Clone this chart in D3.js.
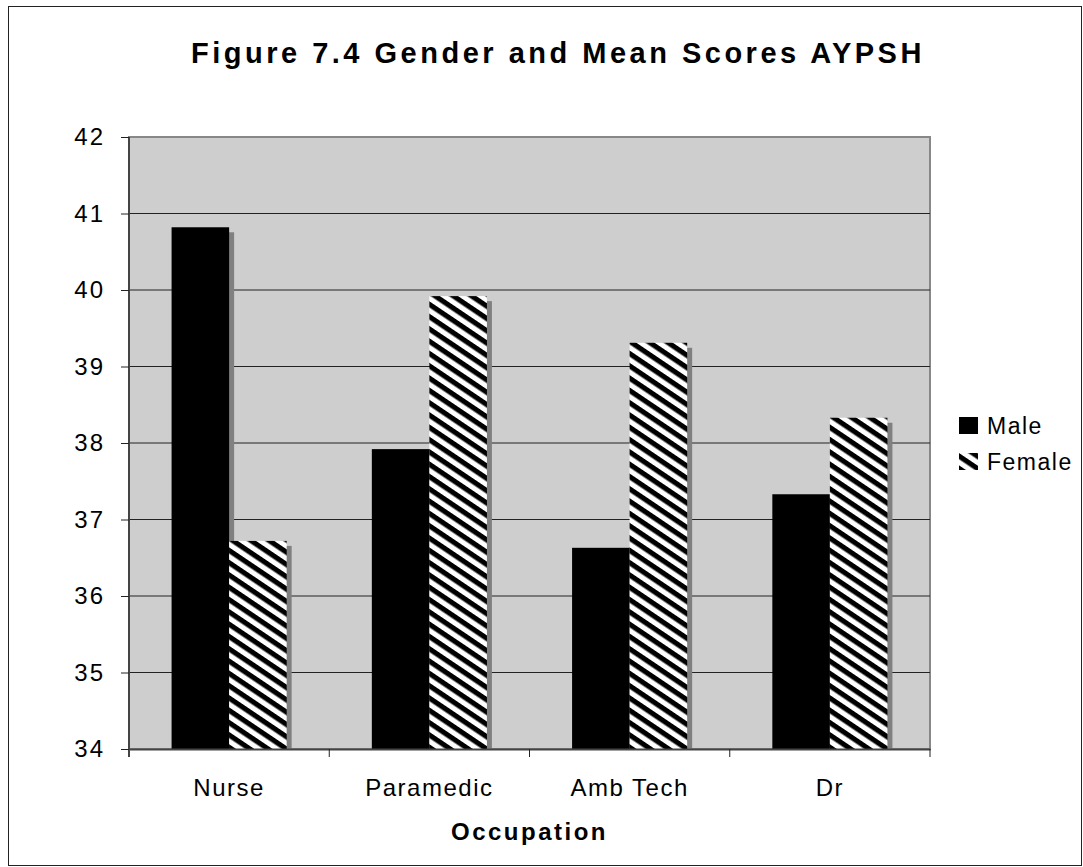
<!DOCTYPE html>
<html>
<head>
<meta charset="utf-8">
<script src="https://d3js.org/d3.v7.min.js"></script>
<style>
  body { margin: 0; background: white; }
  text { font-family: "Liberation Sans", Arial, sans-serif; fill: black; }
</style>
</head>
<body>
<svg id="chart" width="1083" height="867"></svg>
<script>
//DATA
const occupations = ["Nurse", "Paramedic", "Amb Tech", "Dr"];
const seriesNames = ["Male", "Female"];
const maleScores = [40.82, 37.92, 36.63, 37.33];
const femaleScores = [36.72, 39.92, 39.31, 38.33];
const yTicks = [34, 35, 36, 37, 38, 39, 40, 41, 42];

const plot = { left: 129, top: 137, right: 930, bottom: 749 };

let svg = d3.select("#chart");

//stripe pattern for Female
let defs = svg.append("defs");
let pat = defs.append("pattern")
  .attr("id", "stripes")
  .attr("patternUnits", "userSpaceOnUse")
  .attr("width", 10.2)
  .attr("height", 10.2)
  .attr("patternTransform", "rotate(34)");
pat.append("rect").attr("width", 10.2).attr("height", 10.2).attr("fill", "white");
pat.append("rect").attr("width", 10.2).attr("height", 5.1).attr("fill", "black");

//outer frame
svg.append("rect")
  .attr("x", 8.5).attr("y", 6.5)
  .attr("width", 1073).attr("height", 859)
  .attr("fill", "white")
  .attr("stroke", "#222")
  .attr("stroke-width", 1);

const x0 = d3.scaleBand()
  .domain(occupations)
  .range([plot.left, plot.right])
  .paddingInner(0)
  .paddingOuter(0);

// gap between groups is about 1.5 bar widths
const x1 = d3.scaleBand()
  .domain(seriesNames)
  .range([0, x0.bandwidth()])
  .paddingOuter(0.74)
  .paddingInner(0);

const y = d3.scaleLinear()
  .domain([34, 42])
  .range([plot.bottom, plot.top]);

//plot background
svg.append("rect")
  .attr("x", plot.left).attr("y", plot.top)
  .attr("width", plot.right - plot.left).attr("height", plot.bottom - plot.top)
  .attr("fill", "#cecece")
  .attr("stroke", "#888")
  .attr("stroke-width", 2);

//gridlines
svg.append("g")
  .selectAll("line")
  .data(yTicks.slice(1, -1))
  .join("line")
  .attr("x1", plot.left).attr("x2", plot.right)
  .attr("y1", d => y(d)).attr("y2", d => y(d))
  .attr("stroke", "#222")
  .attr("stroke-width", 1.2);

const rows = occupations.map((o, i) => ({ occ: o, Male: maleScores[i], Female: femaleScores[i] }));

let groups = svg.append("g")
  .selectAll("g")
  .data(rows)
  .join("g")
  .attr("transform", d => `translate(${x0(d.occ)},0)`);

//shadows first so the neighbour bar covers them
groups.selectAll(".shadow")
  .data(d => seriesNames.map(s => ({ key: s, value: d[s] })))
  .join("rect")
  .attr("class", "shadow")
  .attr("x", d => x1(d.key) + 5)
  .attr("y", d => y(d.value) + 5)
  .attr("width", x1.bandwidth())
  .attr("height", d => plot.bottom - y(d.value) - 5)
  .attr("fill", "#808080");

groups.selectAll(".bar")
  .data(d => seriesNames.map(s => ({ key: s, value: d[s] })))
  .join("rect")
  .attr("class", "bar")
  .attr("x", d => x1(d.key))
  .attr("y", d => y(d.value))
  .attr("width", x1.bandwidth())
  .attr("height", d => plot.bottom - y(d.value))
  .attr("fill", d => d.key === "Male" ? "black" : "url(#stripes)");

//axes
let yAxis = svg.append("g")
  .attr("transform", `translate(${plot.left},0)`)
  .call(d3.axisLeft(y).tickValues(yTicks).tickSize(8).tickPadding(16).tickFormat(d3.format("d")));
yAxis.select(".domain").attr("stroke", "#444").attr("stroke-width", 2).attr("d", `M0,${plot.top}V${plot.bottom + 8}`);
yAxis.selectAll(".tick line").attr("stroke", "#222");
yAxis.selectAll(".tick text")
  .style("font-size", "24px")
  .style("letter-spacing", "2px");

let xAxis = svg.append("g")
  .attr("transform", `translate(0,${plot.bottom})`)
  .call(d3.axisBottom(x0).tickSize(0).tickPadding(30));
xAxis.select(".domain").attr("stroke", "#444").attr("stroke-width", 2);
xAxis.selectAll(".tick text")
  .style("font-size", "24px")
  .style("letter-spacing", "1.5px");

//ticks between categories
svg.append("g")
  .selectAll("line")
  .data(occupations.slice(1).concat(["end"]))
  .join("line")
  .attr("x1", d => d === "end" ? plot.right : x0(d))
  .attr("x2", d => d === "end" ? plot.right : x0(d))
  .attr("y1", plot.bottom).attr("y2", plot.bottom + 8)
  .attr("stroke", "#222");

//title and axis title
svg.append("text")
  .attr("x", 191).attr("y", 63)
  .style("font-size", "29px")
  .style("font-weight", "bold")
  .style("letter-spacing", "3.5px")
  .text("Figure 7.4 Gender and Mean Scores AYPSH");

svg.append("text")
  .attr("x", (plot.left + plot.right) / 2).attr("y", 840)
  .attr("text-anchor", "middle")
  .style("font-size", "24px")
  .style("font-weight", "bold")
  .style("letter-spacing", "2.5px")
  .text("Occupation");

//legend
let legend = svg.append("g")
  .selectAll("g")
  .data(seriesNames)
  .join("g")
  .attr("transform", (d, i) => `translate(959,${417 + i * 36})`);

legend.append("rect")
  .attr("width", 19).attr("height", 17)
  .attr("fill", d => d === "Male" ? "black" : "url(#stripes)");

legend.append("text")
  .attr("x", 28).attr("y", 17)
  .style("font-size", "23px")
  .style("letter-spacing", "1.5px")
  .text(d => d);
</script>
</body>
</html>
